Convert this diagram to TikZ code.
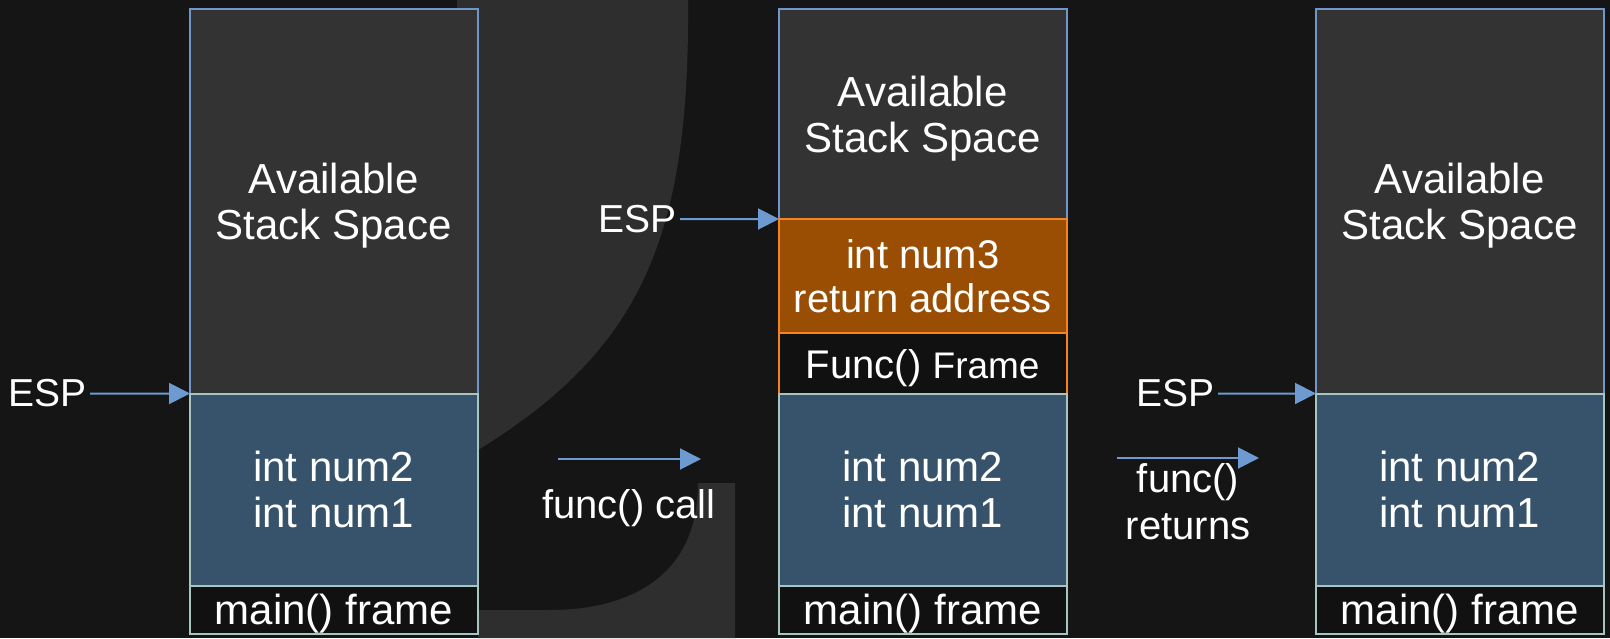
\documentclass[tikz,border=0pt]{standalone}
\usepackage{fontspec}
\setmainfont{Liberation Sans}
\usetikzlibrary{positioning}
\usetikzlibrary{arrows.meta}
\definecolor{bgdark}{HTML}{151515}
\definecolor{markgrey}{HTML}{2E2E2E}
\definecolor{freefill}{HTML}{333333}
\definecolor{freeline}{HTML}{6F97CC}
\definecolor{varfill}{HTML}{36536B}
\definecolor{varline}{HTML}{A9C5C2}
\definecolor{funcfill}{HTML}{994E03}
\definecolor{funcline}{HTML}{F5841F}
\definecolor{framefill}{HTML}{111111}
\definecolor{espblue}{HTML}{6D9BD1}
\tikzset{cell/.style={rectangle,draw,line width=2pt,minimum width=287.5pt,inner sep=0pt,outer sep=0pt,text depth=0pt,text=white,align=center,font=\fontsize{42}{46}\selectfont},
  free cell/.style={cell,fill=freefill,draw=freeline},
  var cell/.style={cell,fill=varfill,draw=varline},
  func cell/.style={cell,fill=funcfill,draw=funcline,font=\fontsize{40}{44}\selectfont},
  funcframe cell/.style={cell,fill=framefill,draw=funcline,font=\fontsize{40}{44}\selectfont},
  frame cell/.style={cell,fill=framefill,draw=varline},
  esp label/.style={text=white,font=\fontsize{39}{44}\selectfont,inner sep=3pt,anchor=east},
  step label/.style={text=white,align=center,text depth=0pt,font=\fontsize{40}{47}\selectfont,inner sep=0pt},
  ptr/.style={espblue,line width=2pt,-{Triangle[length=21pt,width=21pt]}},}

\begin{document}
\begin{tikzpicture}[x=1pt,y=-1pt]
      \useasboundingbox (0,0) rectangle (1610,638);
      \fill[bgdark] (0,0) rectangle (1610,638);
      % watermark in the background
      \fill[markgrey] (457,0) -- (688,0) .. controls (690,240) and (640,350) .. (478,450) -- (457,450) -- cycle;
      \fill[markgrey] (478,638) -- (478,610) -- (550,610) .. controls (625,610) and (698,580) .. (698,483) -- (735,483) -- (735,638) -- cycle;

      % stack before the call
      \node[free cell,minimum height=384.3pt,anchor=north west] (a1) at (190,9.2) {Available\\Stack Space};
      \node[var cell,minimum height=192pt] (v1) [below = 0pt of a1] {int num2\\int num1};
      \node[frame cell,minimum height=48pt] (m1) [below = 0pt of v1] {main() frame};

      % stack inside func()
      \node[free cell,minimum height=209.8pt,anchor=north west] (a2) at (779,9.2) {Available\\Stack Space};
      \node[func cell,minimum height=114pt] (f2) [below = 0pt of a2] {int num3\\return address};
      \node[funcframe cell,minimum height=61pt] (g2) [below = 0pt of f2] {Func() {\fontsize{37}{40}\selectfont Frame}};
      \node[var cell,minimum height=191.5pt] (v2) [below = 0pt of g2] {int num2\\int num1};
      \node[frame cell,minimum height=48pt] (m2) [below = 0pt of v2] {main() frame};

      % stack after the return
      \node[free cell,minimum height=384.3pt,anchor=north west] (a3) at (1316,9.2) {Available\\Stack Space};
      \node[var cell,minimum height=192pt] (v3) [below = 0pt of a3] {int num2\\int num1};
      \node[frame cell,minimum height=48pt] (m3) [below = 0pt of v3] {main() frame};

      % stack pointers
      \node[esp label] (e1) at (90,393.5) {ESP};
      \node[esp label] (e2) at (680,219) {ESP};
      \node[esp label] (e3) at (1218,393.5) {ESP};

      % steps
      \coordinate (ca) at (558,459);
      \coordinate (cb) at (701,459);
      \node[step label] (cl) at (629,504) {func() call};
      \coordinate (ra) at (1117,458);
      \coordinate (rb) at (1259,458);
      \node[step label] (rl) at (1188,501.5) {func()\\returns};

      \path[ptr]
      (e1.east) edge (v1.north west)
      (e2.east) edge (f2.north west)
      (e3.east) edge (v3.north west)
      (ca) edge (cb)
      (ra) edge (rb);
    \end{tikzpicture}
\end{document}
